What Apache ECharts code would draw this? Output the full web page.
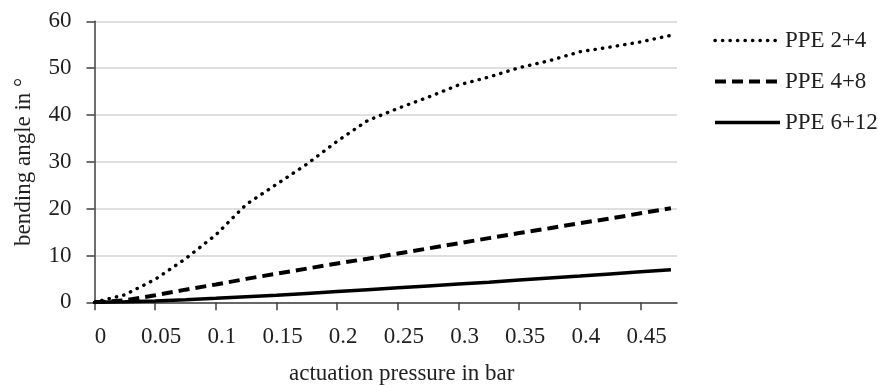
<!DOCTYPE html>
<html><head><meta charset="utf-8">
<script src="https://cdn.jsdelivr.net/npm/echarts@6/dist/echarts.min.js"></script>
<style>html,body{margin:0;padding:0;background:#fff}#c{width:878px;height:385px}</style>
</head><body><div id="c"></div>
<script>
const pressure = [0, 0.025, 0.05, 0.075, 0.1, 0.125, 0.15, 0.175, 0.2, 0.225, 0.25, 0.275, 0.3, 0.325, 0.35, 0.375, 0.4, 0.425, 0.45, 0.475];
const ppe24 = [0, 1.6, 4.9, 9.3, 14.4, 20.9, 25.2, 29.5, 34.4, 38.8, 41.4, 43.8, 46.4, 48.1, 50.1, 51.6, 53.5, 54.5, 55.6, 57.0];
const ppe48 = [0, 0.4, 1.5, 2.7, 3.8, 5.0, 6.1, 7.2, 8.3, 9.3, 10.4, 11.5, 12.6, 13.7, 14.8, 15.8, 16.9, 17.9, 19.0, 20.1];
const ppe612 = [0, 0.1, 0.3, 0.55, 0.85, 1.2, 1.5, 1.9, 2.3, 2.7, 3.1, 3.5, 3.9, 4.3, 4.75, 5.2, 5.6, 6.05, 6.5, 6.95];
const xTicks = [0, 0.05, 0.1, 0.15, 0.2, 0.25, 0.3, 0.35, 0.4, 0.45];
const seriesNames = ['PPE 2+4', 'PPE 4+8', 'PPE 6+12'];

const FONT = 'Liberation Serif';
const FS = 23;
const TXT = '#1f1f1f';
const pairs = arr => pressure.map((p, i) => [p, arr[i]]);

const chart = echarts.init(document.getElementById('c'), null, {renderer: 'canvas'});
chart.setOption({
  animation: false,
  backgroundColor: '#fff',
  grid: {left: 94.5, right: 201, top: 21.3, bottom: 82.7, outerBoundsMode: 'none', containLabel: false},
  legend: {
    orient: 'vertical', left: 713, top: 29, padding: 0,
    itemWidth: 65, itemHeight: 14, itemGap: 18,
    itemStyle: {opacity: 0},
    lineStyle: {width: 'inherit'},
    textStyle: {fontFamily: FONT, fontSize: FS, color: TXT},
    data: seriesNames
  },
  xAxis: {
    type: 'value', min: 0, max: 0.48, interval: 0.05,
    name: 'actuation pressure in bar', nameLocation: 'middle', nameGap: 60,
    nameTextStyle: {fontFamily: FONT, fontSize: FS, color: TXT, padding: [0,0,0,32]},
    axisLine: {show: true, lineStyle: {color: '#404040', width: 1.5}},
    axisTick: {show: true, length: 8, lineStyle: {color: '#404040', width: 1.5}, customValues: xTicks},
    axisLabel: {fontFamily: FONT, fontSize: FS, color: TXT, margin: 23, padding: [0,0,0,12], customValues: xTicks,
      formatter: v => String(+v.toFixed(2))},
    splitLine: {show: false}
  },
  yAxis: {
    type: 'value', min: 0, max: 60, interval: 10,
    name: 'bending angle in °', nameLocation: 'middle', nameGap: 59, nameRotate: 90,
    nameTextStyle: {fontFamily: FONT, fontSize: FS, color: TXT},
    axisLine: {show: true, lineStyle: {color: '#404040', width: 1.5}},
    axisTick: {show: true, length: 8, lineStyle: {color: '#404040', width: 1.5}},
    axisLabel: {fontFamily: FONT, fontSize: FS, color: TXT, margin: 23},
    splitLine: {show: true, lineStyle: {color: '#d4d4d4', width: 1.5}}
  },
  series: [
    {name: seriesNames[0], type: 'line', data: pairs(ppe24), showSymbol: false, symbol: 'none',
     lineStyle: {color: '#000', width: 3.4, type: [0.3, 7.2], cap: 'round'}, itemStyle: {color: '#000'}},
    {name: seriesNames[1], type: 'line', data: pairs(ppe48), showSymbol: false, symbol: 'none',
     lineStyle: {color: '#000', width: 4, type: [11, 6]}, itemStyle: {color: '#000'}},
    {name: seriesNames[2], type: 'line', data: pairs(ppe612), showSymbol: false, symbol: 'none',
     lineStyle: {color: '#000', width: 3.5}, itemStyle: {color: '#000'}}
  ]
});
</script></body></html>
